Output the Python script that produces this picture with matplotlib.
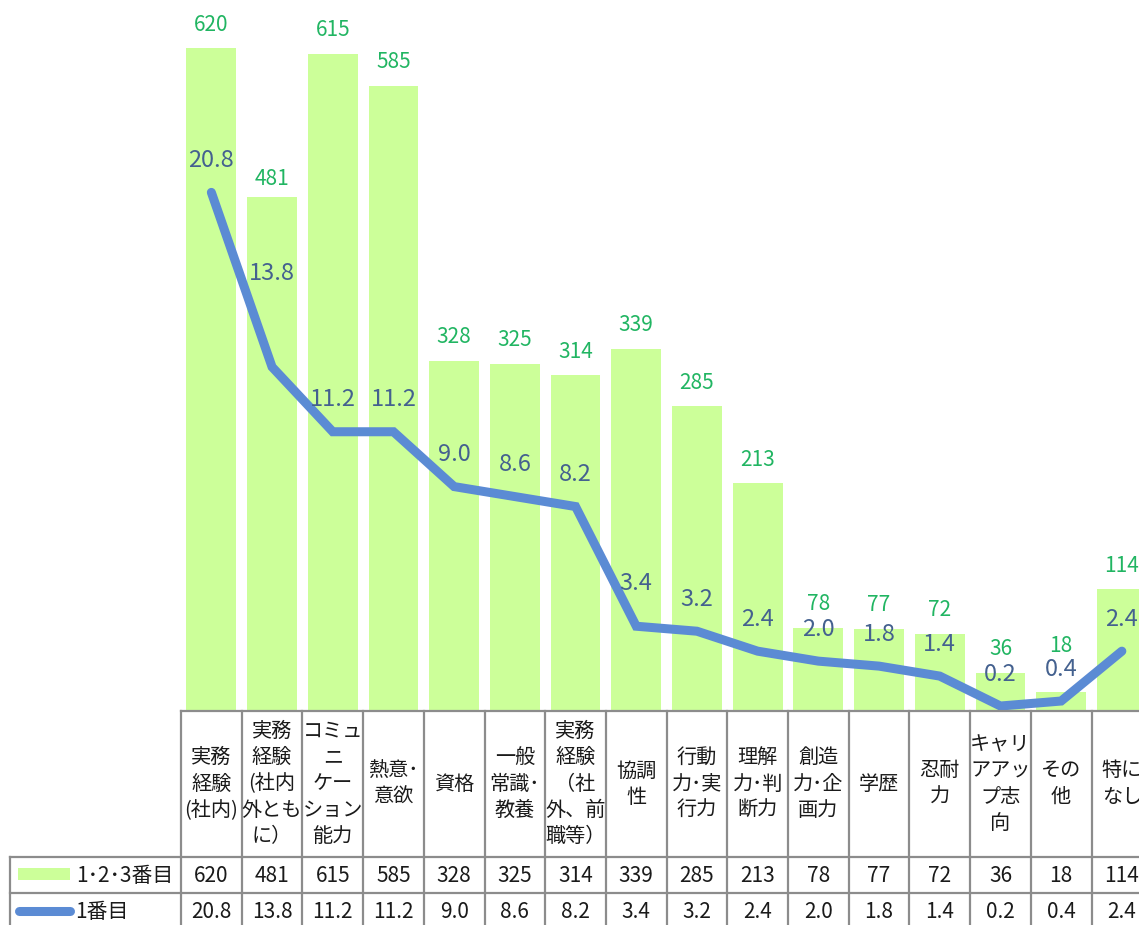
import matplotlib
matplotlib.use("Agg")
import matplotlib.pyplot as plt
import matplotlib.transforms as mtransforms
from matplotlib.patches import Rectangle
from matplotlib.lines import Line2D

plt.rcParams['font.family'] = ['Noto Sans CJK JP', 'DejaVu Sans']

categories = [
    "実務\n経験\n(社内)",
    "実務\n経験\n(社内\n外とも\nに）",
    "コミュ\nニ\nケー\nション\n能力",
    "熱意･\n意欲",
    "資格",
    "一般\n常識･\n教養",
    "実務\n経験\n（社\n外、前\n職等）",
    "協調\n性",
    "行動\n力･実\n行力",
    "理解\n力･判\n断力",
    "創造\n力･企\n画力",
    "学歴",
    "忍耐\n力",
    "キャリ\nアアッ\nプ志\n向",
    "その\n他",
    "特に\nなし",
]
top3_counts = [620, 481, 615, 585, 328, 325, 314, 339, 285, 213, 78, 77, 72, 36, 18, 114]
first_pct = [20.8, 13.8, 11.2, 11.2, 9.0, 8.6, 8.2, 3.4, 3.2, 2.4, 2.0, 1.8, 1.4, 0.2, 0.4, 2.4]
series_names = ["1･2･3番目", "1番目"]

# label nudges (points above the mark)
bar_label_offset = [17, 13, 17, 17, 17, 17, 17, 17, 17, 17, 17, 17, 17, 17, 33, 17]
line_label_offset = [23, 67, 23, 23, 23, 23, 23, 31, 23, 23, 23, 23, 23, 23, 23, 23]

BAR_COLOR = "#CCFF99"
LINE_COLOR = "#5B8BD4"
BAR_TEXT = "#21B562"
LINE_TEXT = "#44618F"
GRID = "#8C8C8C"
TXT = "#1a1a1a"

W, H = 1139, 925
fig = plt.figure(figsize=(W / 100, H / 100), dpi=100)

col_w = 60.7
x0 = 181
base_y = 711
n = len(categories)
ax = fig.add_axes([x0 / W, (H - base_y) / H, n * col_w / W, 748 / H])
ax2 = ax.twinx()

xs = list(range(n))
ax.bar(xs, top3_counts, width=0.82, color=BAR_COLOR, zorder=1)
ax.set_xlim(-0.5, n - 0.5)
ax.set_ylim(0, 700)
ax2.set_ylim(0, 30)
ax2.plot(xs, first_pct, color=LINE_COLOR, lw=6.5, solid_capstyle="round",
         solid_joinstyle="miter", zorder=3)

for a in (ax, ax2):
    a.set_axis_off()

for i, v in enumerate(top3_counts):
    ax.annotate(str(v), (i, v), xytext=(0, bar_label_offset[i]), textcoords="offset points",
                ha="center", va="center", fontsize=15, color=BAR_TEXT)
for i, v in enumerate(first_pct):
    ax2.annotate(f"{v:.1f}", (i, v), xytext=(0, line_label_offset[i]), textcoords="offset points",
                 ha="center", va="center", fontsize=17, color=LINE_TEXT, zorder=4)

# data table below the plot
def fy(py):
    return 1 - py / H

def fx(px):
    return px / W

trans = mtransforms.blended_transform_factory(ax.transData, fig.transFigure)
row_top = 857
row_mid = 893
right = n - 0.5

def hline(y, xa_fig, xb_data):
    # horizontal rule from a figure x to a data x
    xa = ax.transData.inverted().transform(fig.transFigure.transform((xa_fig, 0)))[0]
    fig.add_artist(Line2D([xa, xb_data], [fy(y), fy(y)], transform=trans,
                          color=GRID, lw=1.6, clip_on=False))

hline(base_y, fx(x0), right)
hline(row_top, fx(10), right)
hline(row_mid, fx(10), right)
fig.add_artist(Line2D([fx(10), fx(10)], [fy(row_top), 0], transform=fig.transFigure,
                      color=GRID, lw=1.6))
for k in range(n + 1):
    fig.add_artist(Line2D([k - 0.5, k - 0.5], [fy(base_y), 0], transform=trans,
                          color=GRID, lw=1.6, clip_on=False))

for i, lab in enumerate(categories):
    fig.text(i, fy((base_y + row_top) / 2), lab, transform=trans, ha="center", va="center",
             fontsize=14.5, linespacing=1.33, color=TXT)
    fig.text(i, fy((row_top + row_mid) / 2 + 1), str(top3_counts[i]), transform=trans,
             ha="center", va="center", fontsize=15, color=TXT)
    fig.text(i, fy(row_mid + 19), f"{first_pct[i]:.1f}", transform=trans,
             ha="center", va="center", fontsize=15, color=TXT)

# legend keys inside the table
fig.add_artist(Rectangle((fx(18), fy(880)), fx(52), 12 / H, transform=fig.transFigure,
                         facecolor=BAR_COLOR, edgecolor="none"))
fig.text(fx(76), fy(876), series_names[0], ha="left", va="center", fontsize=15, color=TXT)
fig.add_artist(Line2D([fx(19), fx(70)], [fy(911), fy(911)], transform=fig.transFigure,
                      color=LINE_COLOR, lw=6.5, solid_capstyle="round"))
fig.text(fx(75), fy(912), series_names[1], ha="left", va="center", fontsize=15, color=TXT)

fig.savefig("out.png", dpi=100)
